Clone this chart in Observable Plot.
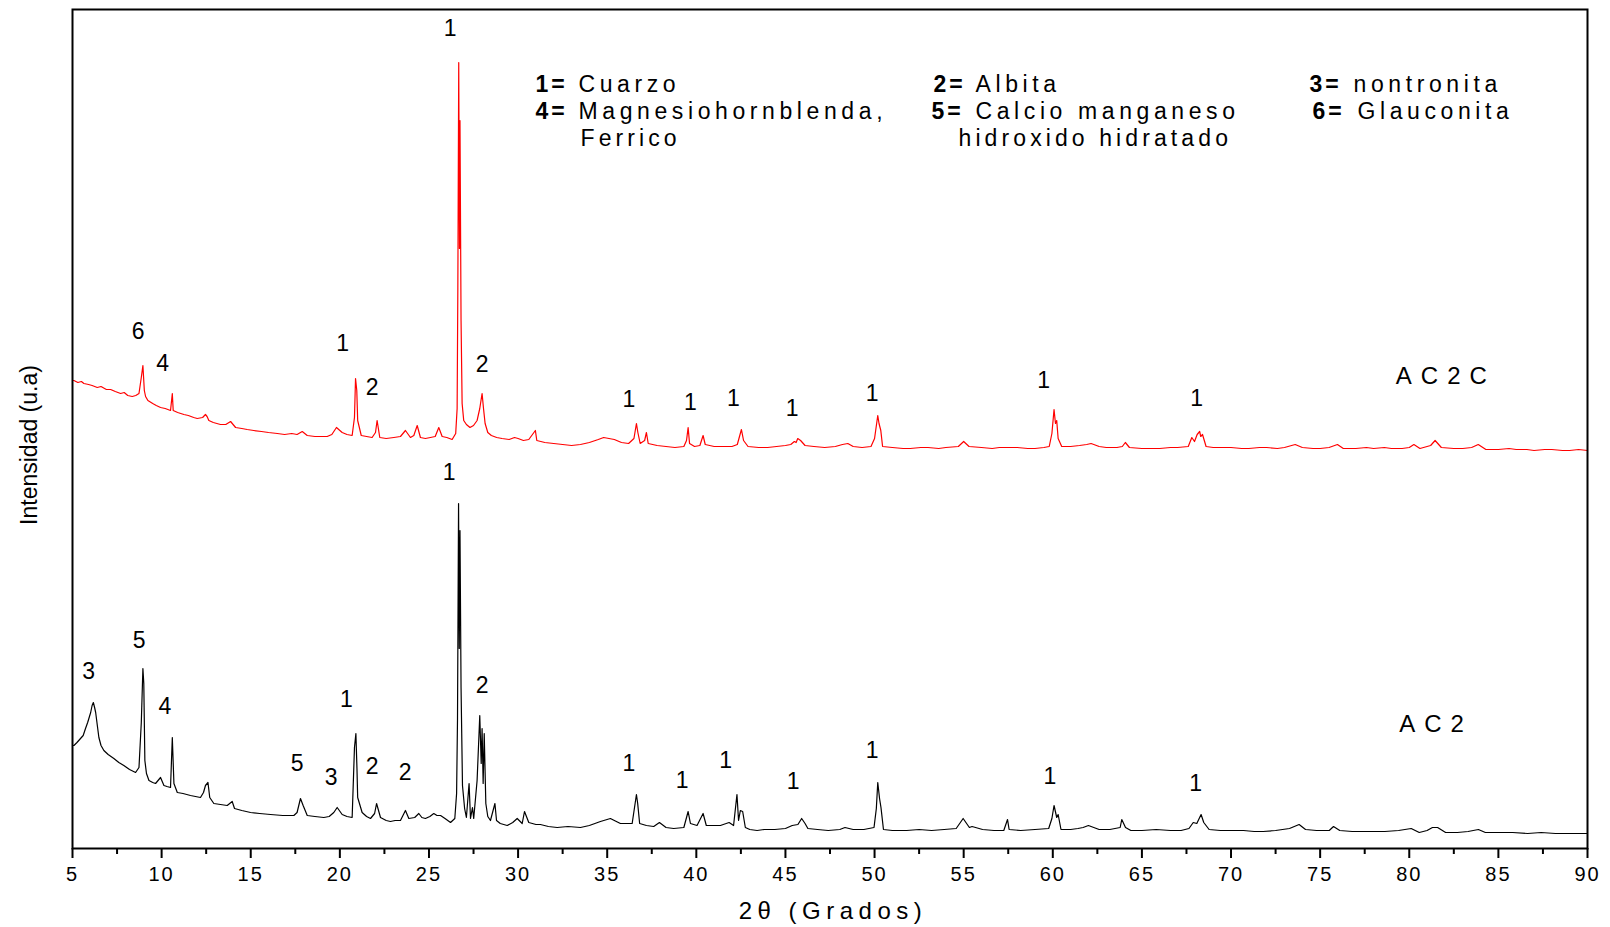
<!DOCTYPE html>
<html>
<head>
<meta charset="utf-8">
<script src="https://cdn.jsdelivr.net/npm/d3@7"></script>
<script src="https://cdn.jsdelivr.net/npm/@observablehq/plot@0.6"></script>
<style>
  html, body { margin: 0; padding: 0; background: #fff; }
  #chart { width: 1610px; height: 927px; }
</style>
</head>
<body>
<div id="chart"></div>
<script>
// ---------- DATA ----------
// AC2C (red) : 2θ (degrees) and intensity (a.u.)
const ac2cTheta = [5.0,5.08,5.3,5.5,5.64,5.9,6.1,6.39,6.6,6.9,7.14,7.4,7.7,7.9,8.1,8.35,8.55,8.73,8.86,8.95,9.03,9.1,9.23,9.5,9.7,9.94,10.2,10.5,10.6,10.65,10.9,11.25,11.5,11.8,12.0,12.3,12.46,12.55,12.65,12.9,13.3,13.6,13.87,14.15,14.5,14.8,15.17,15.6,16.0,16.49,16.9,17.3,17.6,17.89,18.17,18.6,19.0,19.29,19.55,19.81,20.13,20.4,20.69,20.82,20.88,20.95,21.0,21.2,21.5,21.81,22.0,22.09,22.24,22.6,23.03,23.4,23.68,23.96,24.15,24.34,24.52,24.8,25.08,25.35,25.55,25.74,26.0,26.3,26.5,26.58,26.62,26.67,26.71,26.74,26.8,26.86,26.95,27.1,27.3,27.5,27.7,27.85,27.98,28.06,28.15,28.3,28.5,28.8,29.1,29.5,29.8,30.0,30.3,30.6,30.97,31.05,31.5,32.0,32.5,33.0,33.5,34.0,34.5,34.8,35.1,35.4,35.8,36.2,36.5,36.64,36.72,36.85,37.1,37.2,37.3,37.8,38.3,38.8,39.3,39.45,39.54,39.62,39.9,40.2,40.38,40.5,41.0,41.5,42.0,42.3,42.53,42.65,42.9,43.5,44.0,44.5,45.0,45.3,45.5,45.6,45.69,45.85,46.1,46.6,47.2,47.8,48.2,48.5,48.8,49.3,49.8,50.0,50.18,50.25,50.35,50.45,51.0,51.6,52.0,52.6,53.0,53.6,54.0,54.7,55.0,55.3,56.0,56.6,57.0,57.6,58.0,58.6,59.0,59.5,59.8,59.95,60.07,60.15,60.22,60.3,60.5,61.0,61.5,61.9,62.15,62.6,63.0,63.6,63.9,64.07,64.3,65.0,65.6,66.0,66.6,67.0,67.6,67.8,67.95,68.1,68.24,68.3,68.4,68.6,69.0,69.6,70.0,70.6,71.0,71.6,72.0,72.6,73.0,73.6,74.0,74.6,75.0,75.5,75.97,76.3,77.0,77.6,78.0,78.6,79.0,79.6,80.0,80.26,80.6,81.2,81.45,81.6,81.8,82.5,83.0,83.5,83.87,84.3,85.0,85.6,86.0,86.6,87.0,87.6,88.0,88.6,89.0,89.5,90.0];
const ac2cInt = [468,468,466,467,465,464,463,461,462,459,459,457,455,456,453,452,453,455,471,483,458,452,448,445,443,441,440,438,455,438,436,434,433,431,430,431,434,432,428,426,424,424,427,421,420,419,418,417,416,415,414,415,414,417,413,412,412,412,414,421,416,414,413,431,470,458,428,413,412,411,416,428,411,410,411,412,418,411,413,423,411,410,411,412,421,412,411,409,415,440,561,786,600,728,528,445,428,424,421,423,428,440,455,440,425,416,413,411,410,409,411,410,408,409,418,408,406,405,404,403,404,406,409,411,410,409,406,405,410,425,416,405,408,416,405,403,402,401,402,408,421,405,402,403,413,404,402,402,402,404,419,408,402,401,401,402,403,404,407,406,410,408,403,402,401,402,404,405,402,401,402,410,433,425,418,402,401,400,400,401,401,400,401,402,407,402,401,400,401,401,401,400,400,401,402,415,439,425,428,410,402,402,403,404,405,402,401,401,402,406,401,400,400,400,401,401,402,411,407,414,417,412,414,402,401,401,401,400,400,401,401,400,401,404,401,400,400,401,404,400,400,401,400,401,400,400,401,404,400,403,408,405,401,400,400,401,404,399,399,400,399,399,398,399,399,398,398,399,398];

// AC2 (black)
const ac2Theta = [5.0,5.08,5.25,5.45,5.6,5.73,5.85,6.02,6.1,6.17,6.24,6.3,6.4,6.48,6.6,6.76,7.0,7.32,7.6,7.88,8.2,8.54,8.73,8.86,8.95,9.0,9.06,9.15,9.29,9.5,9.66,9.8,9.94,10.13,10.3,10.5,10.6,10.69,10.88,11.2,11.62,11.9,12.18,12.35,12.46,12.6,12.7,12.93,13.3,13.68,13.96,14.09,14.5,14.99,15.5,16.11,16.8,17.42,17.6,17.79,17.94,18.17,18.6,19.1,19.4,19.66,19.85,20.13,20.4,20.69,20.82,20.9,20.96,21.0,21.25,21.5,21.72,21.95,22.06,22.28,22.6,22.84,23.1,23.4,23.68,23.87,24.2,24.43,24.6,24.8,25.05,25.27,25.45,25.65,25.9,26.21,26.45,26.55,26.6,26.66,26.7,26.74,26.8,26.88,27.0,27.1,27.25,27.33,27.44,27.51,27.7,27.85,27.93,27.98,28.04,28.1,28.19,28.3,28.45,28.7,28.79,29.0,29.39,29.7,29.95,30.23,30.36,30.6,31.0,31.25,31.7,32.19,32.8,33.5,34.0,34.62,35.18,35.4,35.74,36.1,36.4,36.64,36.71,36.82,37.2,37.61,37.93,38.3,38.73,39.3,39.54,39.67,40.04,40.38,40.56,41.0,41.35,41.84,42.09,42.28,42.37,42.47,42.6,42.75,43.0,43.41,43.8,44.4,45.0,45.38,45.7,45.91,46.1,46.26,46.8,47.4,48.05,48.34,48.8,49.4,49.97,50.1,50.18,50.28,50.36,50.5,51.0,51.8,52.5,53.2,53.9,54.58,54.97,55.32,55.47,56.06,56.7,57.25,57.46,57.55,58.2,59.0,59.77,59.95,60.07,60.22,60.3,60.46,61.0,61.41,61.7,62.0,62.3,62.6,63.2,63.78,63.87,64.08,64.38,65.0,65.8,66.6,67.2,67.64,67.88,68.08,68.32,68.47,68.77,69.4,70.0,70.7,71.3,71.8,72.5,73.28,73.82,74.18,74.8,75.51,75.75,76.1,76.8,77.6,78.63,79.4,80.11,80.56,81.0,81.3,81.59,82.04,82.7,83.3,83.88,84.27,85.0,85.8,86.64,87.4,88.2,89.0,89.76,90.0];
const ac2Int = [103,103,106,110,113,120,126,136,143,146,141,136,122,111,103,98,94,90,86,83,79,76,81,126,180,165,88,75,68,66,65,68,71,63,62,61,111,65,56,55,53,52,51,56,63,66,51,45,44,43,47,40,38,36,35,34,33,33,36,50,43,33,32,31,32,36,41,34,32,31,101,115,80,51,36,32,30,35,45,31,28,27,28,28,38,30,31,35,31,30,32,35,33,33,30,26,30,55,128,345,200,318,161,63,40,31,65,30,41,30,68,133,85,120,65,115,45,32,28,45,28,25,23,26,30,25,37,26,24,24,22,21,22,21,23,27,30,28,25,25,25,54,45,25,23,22,26,21,20,21,37,25,23,35,23,23,23,26,23,54,28,38,37,21,19,18,19,19,20,23,24,30,25,20,19,18,19,21,19,19,21,40,66,50,41,19,18,18,19,18,19,20,30,21,22,19,18,18,29,19,18,19,20,30,43,31,34,19,19,20,21,23,21,19,19,21,29,21,18,18,19,18,18,20,26,25,34,26,19,18,18,18,17,17,18,20,24,19,18,18,22,18,17,17,17,18,20,16,18,21,21,16,16,17,19,16,16,16,15,16,15,15,15,15];

// Peak annotations: label, 2θ, intensity
const ac2cPeakText  = ["1","6","4","1","2","2","1","1","1","1","1","1","1"];
const ac2cPeakTheta = [26.19,8.68,10.06,20.15,21.81,27.98,36.22,39.67,42.08,45.38,49.87,59.49,68.07];
const ac2cPeakInt   = [820,517,485,505,461,484,449,446,450,440,455,468,450];

const ac2PeakText  = ["1","5","3","4","2","1","5","3","2","2","1","1","1","1","1","1","1"];
const ac2PeakTheta = [26.13,8.74,5.91,10.18,27.98,20.37,17.61,19.51,21.81,23.66,36.22,39.21,41.64,45.43,49.87,59.84,68.02];
const ac2PeakInt   = [376,208,177,142,163,149,85,71,82,76,85,68,88,67,98,72,65];

// Sample names
const sampleNames = ["AC2C","AC2"];
const sampleTheta = [82.05,81.5];
const sampleInt   = [472,124];

// Phase key
const phaseKeys  = ["1=","2=","3=","4=","5=","6="];
const phaseNames = ["Cuarzo","Albita","nontronita","Magnesiohornblenda,","Calcio manganeso","Glauconita"];
const phaseNamesCont = ["Ferrico","hidroxido hidratado"];

// Axis ticks
const majorTicks = [5,10,15,20,25,30,35,40,45,50,55,60,65,70,75,80,85,90];
const minorTicks = [7.5,12.5,17.5,22.5,27.5,32.5,37.5,42.5,47.5,52.5,57.5,62.5,67.5,72.5,77.5,82.5,87.5];
const xTitle = "2θ (Grados)";
const yTitle = "Intensidad (u.a)";

// ---------- BUILD ----------
const zip = (xs, ys) => xs.map((t, k) => ({t, v: ys[k]}));
const redRows = zip(ac2cTheta, ac2cInt);
const blackRows = zip(ac2Theta, ac2Int);
const redLabels = ac2cPeakText.map((s, k) => ({s, t: ac2cPeakTheta[k], v: ac2cPeakInt[k]}));
const blackLabels = ac2PeakText.map((s, k) => ({s, t: ac2PeakTheta[k], v: ac2PeakInt[k]}));
const sampleRows = sampleNames.map((s, k) => ({s, t: sampleTheta[k], v: sampleInt[k]}));

// legend layout (pixel offsets from frame top-left)
const colKeyDx  = [463, 861, 1237];
const colNameDx = [506, 903, 1281];
const rowDy = [75, 102, 129];
const keyRows = phaseKeys.map((s, k) => ({s, dx: colKeyDx[k % 3] + (k === 4 ? -2 : 0) + (k === 5 ? 3 : 0), dy: rowDy[Math.floor(k / 3)]}));
const nameRows = phaseNames.map((s, k) => ({s, dx: colNameDx[k % 3] + (k === 5 ? 4 : 0), dy: rowDy[Math.floor(k / 3)]}));
const contRows = phaseNamesCont.map((s, k) => ({s, dx: [508, 886][k], dy: rowDy[2]}));

const font = "'Liberation Sans', Arial, Helvetica, sans-serif";

const textMarks = [];
for (const r of keyRows) textMarks.push(Plot.text([r.s], {frameAnchor: "top-left", dx: r.dx, dy: r.dy, textAnchor: "start", lineAnchor: "middle", fontSize: 23, fontWeight: "bold", fill: "black", ariaDescription: "legendkey"}));
for (const r of nameRows) textMarks.push(Plot.text([r.s], {frameAnchor: "top-left", dx: r.dx, dy: r.dy, textAnchor: "start", lineAnchor: "middle", fontSize: 23, fill: "black", ariaDescription: "legend"}));
for (const r of contRows) textMarks.push(Plot.text([r.s], {frameAnchor: "top-left", dx: r.dx, dy: r.dy, textAnchor: "start", lineAnchor: "middle", fontSize: 23, fill: "black", ariaDescription: "legend2"}));

const chart = Plot.plot({
  width: 1610,
  height: 927,
  marginLeft: 72,
  marginRight: 23,
  marginTop: 9,
  marginBottom: 79,
  style: {fontFamily: font, background: "white", color: "black"},
  x: {domain: [5, 90]},
  y: {domain: [0, 839], axis: null},
  marks: [
    Plot.line(redRows, {x: "t", y: "v", stroke: "#ff0000", strokeWidth: 1.2}),
    Plot.line(blackRows, {x: "t", y: "v", stroke: "#000000", strokeWidth: 1.2}),
    Plot.axisX(majorTicks, {tickSize: 10, tickPadding: 8, fontSize: 20, strokeWidth: 2, label: null, tickFormat: d => String(d), ariaDescription: "ticks"}),
    Plot.axisX(minorTicks, {tickSize: 6, strokeWidth: 2, text: null, label: null}),
    Plot.frame({stroke: "black", strokeWidth: 2}),
    Plot.text(redLabels, {x: "t", y: "v", text: "s", fontSize: 23, fill: "black", lineAnchor: "middle"}),
    Plot.text(blackLabels, {x: "t", y: "v", text: "s", fontSize: 23, fill: "black", lineAnchor: "middle"}),
    Plot.text(sampleRows, {x: "t", y: "v", text: "s", fontSize: 24, fill: "black", lineAnchor: "middle", ariaDescription: "sample"}),
    Plot.text([xTitle], {frameAnchor: "bottom", dy: 63, dx: 3, fontSize: 24, fill: "black", lineAnchor: "middle", ariaDescription: "xtitle"}),
    Plot.text([yTitle], {frameAnchor: "left", dx: -43, dy: 16, rotate: -90, textAnchor: "middle", fontSize: 23, fill: "black", lineAnchor: "middle"}),
    ...textMarks
  ]
});

document.getElementById("chart").appendChild(chart);

// Origin-style wide letter spacing
const sel = (d) => d3.select(chart).selectAll(`g[aria-description="${d}"]`);
sel("legend").attr("letter-spacing", "4.6px");
sel("legend2").attr("letter-spacing", "4.1px");
sel("legendkey").attr("letter-spacing", "3px");
sel("sample").attr("letter-spacing", "9px");
sel("xtitle").attr("letter-spacing", "5.5px");
sel("ticks").attr("letter-spacing", "2px");
</script>
</body>
</html>
